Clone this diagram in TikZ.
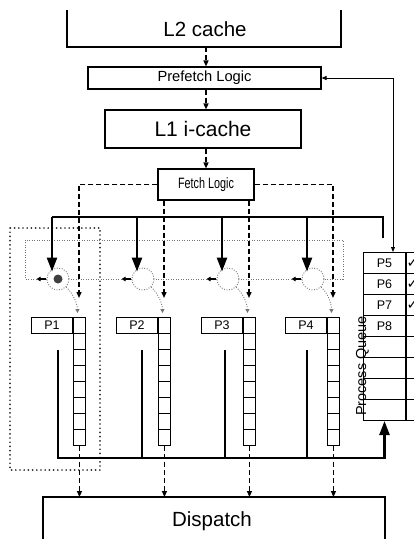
\documentclass[tikz,border=0pt]{standalone}
\usepackage{fontspec}
\setmainfont{Liberation Sans}
\newfontfamily\symfont{DejaVu Sans}
\usetikzlibrary{arrows.meta,calc}
\begin{document}
\begin{tikzpicture}[x=1pt,y=-1pt,
  box/.style={draw, line width=1.1pt, inner sep=0pt},
  dasharr/.style={line width=1.4pt, dash pattern=on 5pt off 3pt, -{Triangle[length=6pt,width=5pt]}},
  bus/.style={line width=2.4pt},
  busarr/.style={line width=2.4pt, -{Triangle[length=14pt,width=10pt]}},
  ring/.style={draw=black!55, line width=0.9pt, dash pattern=on 0.9pt off 1.6pt},
  ringarr/.style={line width=1.4pt, -{Triangle[length=4pt,width=4.5pt]}},
  slot/.style={circle, draw=black!55, line width=0.9pt, dash pattern=on 0.9pt off 1.6pt, minimum size=22pt, inner sep=0pt},
  grp/.style={draw=black!85, line width=1.9pt, dash pattern=on 0pt off 4.2pt, line cap=round},
  qcol/.style={draw, line width=0.9pt, minimum width=12pt, minimum height=128pt, inner sep=0pt, anchor=north west},
  plabel/.style={draw, line width=1pt, minimum width=41pt, minimum height=16pt, inner sep=0pt, anchor=north east, font=\fontsize{12.5}{12.5}\selectfont},
  qcell/.style={draw, line width=1pt, minimum width=42pt, minimum height=21pt, inner sep=0pt, anchor=north west, font=\fontsize{12.5}{12.5}\selectfont},
  ccell/.style={draw, line width=1pt, minimum width=25pt, minimum height=21pt, inner sep=0pt, anchor=north west},
  chk/.style={inner sep=0pt, anchor=west, font=\symfont\fontsize{14}{14}\selectfont},
  ]
\useasboundingbox (0,0) rectangle (414,539);
\clip (0,0) rectangle (414,539);

% L2 cache (open at the top)
\draw[line width=1.1pt] (67,10) |- (341,47) -- (341,10);
\node[font=\fontsize{20.5}{20.5}\selectfont] (l2) at (205,29.5) {L2 cache};
\coordinate (l2b) at (206,47);

% Prefetch, L1, Fetch
\node[box, minimum width=233pt, minimum height=22pt, font=\fontsize{14.7}{14.7}\selectfont] (pf) at (204.5,78) {Prefetch Logic};
\node[box, minimum width=196pt, minimum height=38pt, font=\fontsize{21}{21}\selectfont] (l1) at (203,129) {L1 i-cache};
\node[box, minimum width=96pt, minimum height=31pt, font=\fontsize{15}{15}\selectfont] (fl) at (206,184.5) {\scalebox{0.72}[1]{Fetch Logic}};

\draw[dasharr] (l2b) -- (l2b |- pf.north);
\draw[dasharr] (pf.south -| l2b) -- (l2b |- l1.north);
\draw[dasharr] (l1.south -| l2b) -- (l2b |- fl.north);

% group outline
\draw[grp] (10,228) rectangle (100,470);

% queues
\foreach \i/\xl in {1/73,2/158,3/243,4/327} {
  \node[qcol] (q\i) at (\xl,317) {};
  \foreach \k in {1,...,7} \draw[line width=0.9pt] (q\i.north west) ++(0,16*\k) -- ++(12,0);
  \node[plabel] (p\i) at (q\i.north west) {P\i};
}

% slots (token ring)
\foreach \i/\x in {1/58,2/143,3/228,4/313} \node[slot] (s\i) at (\x,279) {};
\fill[black!75] (s1) circle (4.5pt);
\draw[ring] (s1.west) -- (25,279) -- (25,240) -- (343,240) -- (343,279) -- (s4.east);
\draw[ring] (s4.west) -- (s3.east);
\draw[ring] (s3.west) -- (s2.east);
\draw[ring] (s2.west) -- (s1.east);
\foreach \s in {s1,s2,s3,s4} \draw[ringarr] ($(\s.west)+(-1,0)$) -- ++(-9,0);
\foreach \i in {1,2,3,4}
  \draw[ring, -{Triangle[length=4pt,width=4pt]}] (s\i.-45) .. controls ($(s\i.-45)+(6,5)$) and ($(q\i.north)+(-2,-14)$) .. ($(q\i.north)+(-2,-4)$);

% fetch outputs
\coordinate (a1) at (79,298);
\coordinate (a2) at (164,298);
\coordinate (a3) at (249,298);
\coordinate (a4) at (333,298);
\draw[dasharr] (fl.west) -| (a1);
\draw[dasharr] (fl.south -| a2) -- (a2);
\draw[dasharr] (fl.south -| a3) -- (a3);
\draw[dasharr] (fl.east) -| (a4);

% process queue table
\foreach \k/\t in {1/P5,2/P6,3/P7,4/P8,5/,6/,7/,8/} {
  \node[qcell] (r\k) at (363,{252+21*(\k-1)}) {\t};
  \node[ccell] (c\k) at (r\k.north east) {};
}
\foreach \k in {1,2,3} \node[chk] at ($(c\k.west)+(0.5,0)$) {✓};
\node[rotate=90, anchor=base, inner sep=0pt, font=\fontsize{14.5}{14.5}\selectfont] (pqlab) at (366,366) {Process Queue};

% top bus
\coordinate (bl) at (52,217);
\coordinate (br) at (383,217);
\coordinate (be) at (383,238);
\draw[bus] (be) -- (br) -- (bl);
\foreach \i in {1,2,3,4}
  \draw[busarr] ($(bl -| s\i)+(-6,0)$) -- ($(s\i.north)+(-6,4)$);

% bottom bus
\foreach \i/\x in {2/142,3/225,4/307} \draw[bus] (\x,350) -- (\x,458);
\draw[busarr] (58,350) |- (r8.south |- 0,458) -- (r8.south);

% prefetch feedback
\coordinate (pqt) at (393,252);
\draw[line width=1pt, {Triangle[length=5pt,width=4pt]}-{Triangle[length=5pt,width=4pt]}] (pf.east) -| (pqt);

% dispatch
\draw[line width=1.1pt] (43,545) |- (385,497) -- (385,545);
\coordinate (dt) at (214,497);
\node[font=\fontsize{20.5}{20.5}\selectfont] (dsp) at (212,521) {Dispatch};
\foreach \i in {1,2,3,4} \draw[dasharr] (q\i.south) -- (q\i.south |- dt);
\end{tikzpicture}
\end{document}
